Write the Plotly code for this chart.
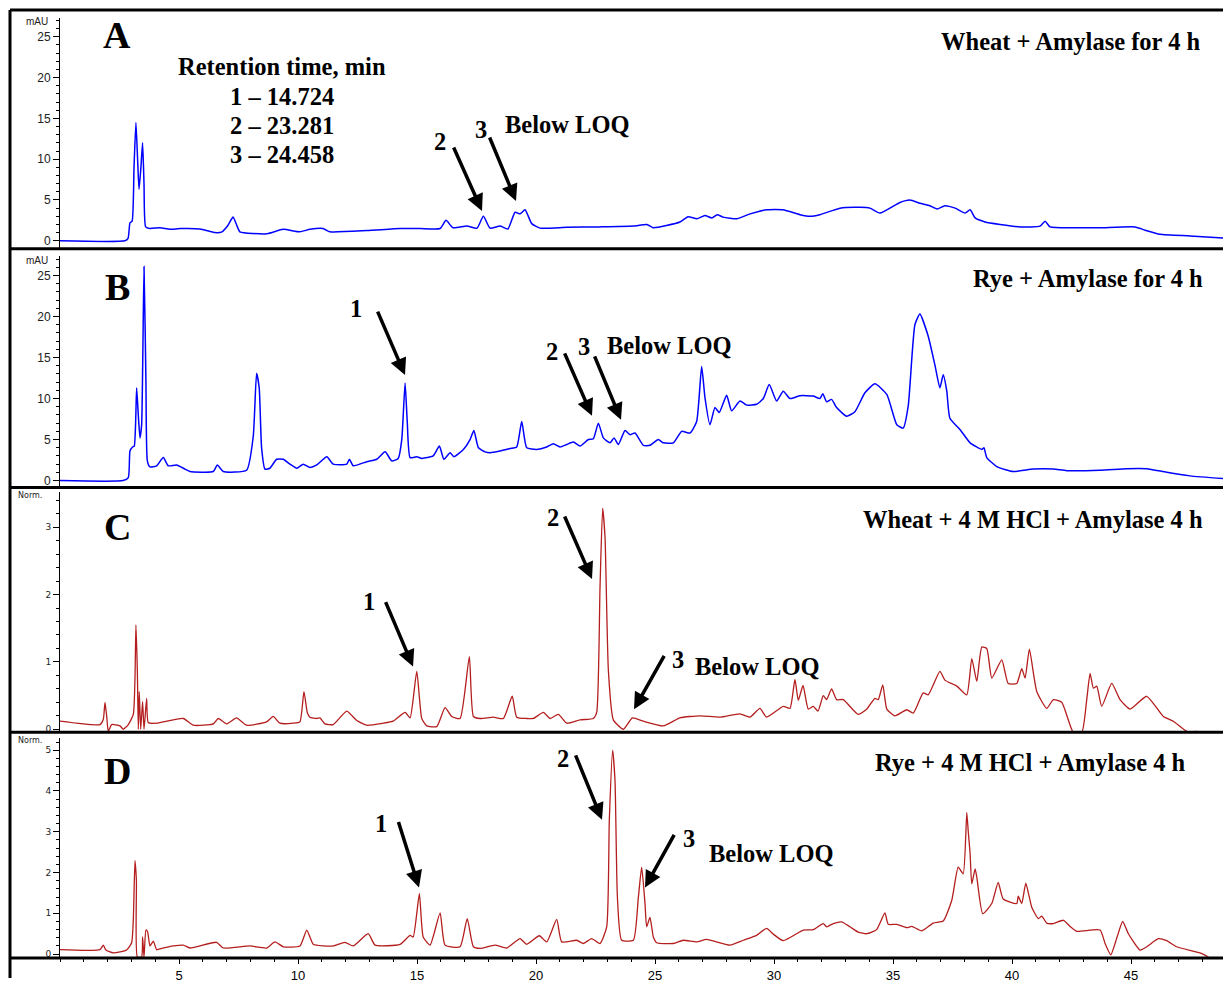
import plotly.graph_objects as go

W, H = 1223, 983

# ---------------- data (time in min, signal) ----------------
a_time = [0.00, 2.73, 2.86, 2.94, 3.03, 3.11, 3.19, 3.26, 3.32, 3.40, 3.47, 3.53, 3.60, 3.78, 4.20, 4.62, 5.04, 5.88,
          6.51, 6.81, 7.06, 7.27, 7.44, 7.56, 8.70, 9.37, 10.08, 10.50, 11.05, 11.34, 12.90, 14.29, 15.13, 15.97,
          16.22, 16.51, 17.10, 17.52, 17.79, 18.07, 18.49, 18.82, 19.12, 19.33, 19.54, 19.82, 20.17, 21.30, 22.69,
          24.08, 24.66, 24.92, 26.05, 26.39, 26.76, 27.10, 27.39, 27.61, 27.86, 28.45, 29.00, 29.71, 30.38, 31.09,
          31.51, 31.93, 32.77, 33.61, 34.03, 34.45, 35.29, 35.71, 36.13, 36.55, 36.85, 37.18, 37.61, 38.03, 38.24,
          38.45, 38.87, 39.50, 40.34, 41.18, 41.39, 41.60, 42.86, 43.70, 45.17, 45.59, 46.22, 47.48, 48.87]
a_signal = [0, 0, 0.3, 2.2, 2.4, 9, 14.5, 10, 6.3, 9, 12, 7, 1.7, 1.5, 1.6, 1.4, 1.5, 1.45,
            1.0, 1.1, 1.9, 2.9, 1.8, 1.1, 0.85, 1.4, 1.1, 1.4, 1.5, 1.1, 1.25, 1.5, 1.5, 1.5,
            2.5, 1.6, 1.8, 1.55, 3.0, 1.55, 1.8, 1.45, 3.5, 3.3, 3.8, 2.1, 1.55, 1.65, 1.7,
            1.8, 2.0, 1.6, 2.3, 2.95, 2.7, 3.1, 2.8, 3.2, 2.9, 2.7, 3.3, 3.8, 3.8, 3.2,
            3.0, 3.2, 4.0, 4.1, 4.0, 3.4, 4.7, 5.0, 4.6, 4.3, 3.9, 4.3, 4.0, 3.4, 3.8,
            2.8, 2.3, 2.0, 1.7, 1.8, 2.4, 1.7, 1.6, 1.6, 1.7, 1.3, 0.8, 0.6, 0.35]

b_time = [0.00, 2.65, 2.87, 2.94, 3.05, 3.12, 3.22, 3.29, 3.36, 3.43, 3.53, 3.61, 3.67, 3.78, 4.06, 4.34, 4.55, 4.90,
          5.25, 5.46, 6.44, 6.61, 6.86, 7.84, 8.12, 8.26, 8.37, 8.47, 8.61, 8.82, 9.10, 9.38, 9.66, 9.95, 10.22,
          10.50, 10.79, 11.21, 11.48, 12.05, 12.16, 12.32, 12.89, 13.31, 13.66, 13.94, 14.21, 14.36, 14.50, 14.59,
          14.71, 14.99, 15.20, 15.68, 15.94, 16.13, 16.39, 16.55, 16.95, 17.23, 17.39, 17.58, 17.86, 18.07, 18.49,
          18.91, 19.19, 19.40, 19.61, 20.03, 20.45, 20.73, 21.01, 21.29, 21.57, 21.85, 22.20, 22.41, 22.62, 22.83,
          23.11, 23.28, 23.46, 23.74, 23.95, 24.16, 24.51, 24.79, 25.14, 25.35, 25.77, 26.12, 26.47, 26.75, 26.96,
          27.10, 27.31, 27.52, 27.70, 28.01, 28.22, 28.57, 28.85, 29.27, 29.55, 29.80, 30.11, 30.39, 30.67, 31.09,
          31.65, 31.93, 32.05, 32.21, 32.42, 32.63, 33.05, 33.40, 33.82, 34.24, 34.74, 35.16, 35.43, 35.64, 35.92,
          36.13, 36.48, 36.76, 36.97, 37.11, 37.26, 37.39, 37.82, 38.24, 38.73, 38.82, 38.94, 39.36, 40.05, 40.89,
          41.74, 42.30, 43.70, 44.82, 45.66, 46.50, 47.48, 48.87]
b_signal = [0, 0, 0.36, 3.6, 4.1, 4.2, 11.3, 8.0, 5.2, 6.8, 26.1, 12.1, 2.4, 1.66, 1.8, 2.8, 1.8, 1.9,
            1.4, 1.1, 1.1, 1.9, 1.1, 1.25, 5.4, 13.1, 11.3, 4.0, 1.4, 1.5, 2.6, 2.6, 2.0, 1.5, 2.0,
            1.6, 1.9, 2.9, 2.0, 2.0, 2.6, 1.8, 2.3, 2.6, 3.5, 2.4, 2.7, 5.0, 11.9, 7.2,
            2.8, 2.9, 2.7, 3.0, 4.2, 2.6, 3.4, 2.9, 3.8, 5.0, 6.1, 4.0, 3.5, 3.4, 3.6,
            3.9, 4.1, 7.2, 4.0, 3.8, 4.1, 4.5, 4.1, 4.4, 4.7, 4.2, 5.0, 5.1, 7.0, 5.2,
            4.6, 5.2, 4.4, 6.1, 5.6, 5.8, 4.3, 4.3, 5.0, 4.6, 4.6, 6.0, 5.8, 7.2, 13.9,
            10.1, 6.8, 8.9, 8.3, 10.4, 8.5, 9.7, 9.2, 9.3, 10.0, 11.7, 9.7, 10.9, 10.0, 10.35,
            10.3, 10.0, 10.6, 9.6, 9.9, 8.9, 7.85, 8.4, 10.7, 11.8, 10.5, 6.8, 6.4, 9.1, 19.0,
            20.3, 17.6, 14.1, 11.3, 12.9, 10.9, 7.6, 6.2, 4.6, 3.8, 4.0, 2.8, 1.7, 1.1, 1.4,
            1.4, 1.2, 1.25, 1.45, 1.45, 1.0, 0.57, 0.24]

c_time = [0.00, 1.68, 1.82, 1.89, 1.96, 2.03, 2.17, 2.52, 2.66, 2.87, 3.08, 3.15, 3.19, 3.25, 3.29, 3.33, 3.39,
          3.47, 3.53, 3.64, 3.71, 4.06, 5.18, 5.60, 6.44, 6.65, 7.00, 7.42, 7.84, 8.68, 8.96, 9.24, 9.80, 10.08,
          10.25, 10.39, 10.50, 10.79, 10.92, 11.13, 11.48, 12.05, 12.47, 12.89, 13.58, 14.00, 14.50, 14.71, 14.99,
          15.20, 15.41, 15.83, 16.18, 16.46, 16.81, 17.20, 17.37, 17.65, 18.21, 18.63, 19.00, 19.19, 19.61, 19.89,
          20.31, 20.59, 20.94, 21.29, 21.85, 22.41, 22.55, 22.69, 22.80, 22.90, 23.04, 23.25, 23.67, 24.05, 24.51,
          25.35, 26.05, 26.89, 27.73, 28.57, 28.99, 29.41, 29.69, 30.39, 30.67, 30.88, 31.02, 31.22, 31.44, 31.65,
          31.85, 32.07, 32.21, 32.42, 32.63, 32.91, 33.54, 33.90, 34.24, 34.38, 34.57, 34.74, 35.08, 35.58, 35.85,
          36.27, 36.48, 36.97, 37.18, 37.68, 38.10, 38.31, 38.52, 38.73, 38.94, 39.15, 39.57, 39.84, 40.20, 40.41,
          40.55, 40.73, 41.04, 41.46, 41.74, 42.09, 42.58, 42.93, 43.14, 43.28, 43.42, 43.56, 43.77, 44.19, 44.54,
          44.96, 45.66, 46.36, 46.78, 47.34, 47.76]
c_signal = [0.12, 0.07, 0.15, 0.40, 0.2, -0.03, 0.07, 0.05, 0.0, 0.07, 0.22, 0.75, 1.55, 0.86, 0.0, 0.56, 0.0,
            0.41, 0.0, 0.46, 0.1, 0.09, 0.16, 0.06, 0.08, 0.16, 0.08, 0.17, 0.06, 0.11, 0.19, 0.09, 0.09, 0.11,
            0.56, 0.25, 0.18, 0.16, 0.17, 0.08, 0.07, 0.27, 0.13, 0.06, 0.09, 0.12, 0.25, 0.17, 0.86,
            0.16, 0.05, 0.04, 0.32, 0.19, 0.16, 1.08, 0.19, 0.16, 0.18, 0.16, 0.49, 0.18, 0.16, 0.16,
            0.25, 0.16, 0.22, 0.09, 0.14, 0.16, 0.25, 2.11, 3.28, 2.85, 0.88, 0.14, 0.0, 0.17, 0.12,
            0.05, 0.17, 0.2, 0.18, 0.23, 0.18, 0.31, 0.18, 0.34, 0.31, 0.74, 0.43, 0.65, 0.3, 0.34,
            0.27, 0.5, 0.44, 0.6, 0.44, 0.44, 0.22, 0.3, 0.46, 0.44, 0.66, 0.3, 0.2, 0.29, 0.24,
            0.54, 0.51, 0.86, 0.73, 0.64, 0.51, 1.05, 0.71, 1.22, 1.2, 0.76, 1.03, 0.68, 0.68, 0.9,
            0.76, 1.19, 0.56, 0.31, 0.44, 0.4, -0.05, -0.05, 0.44, 0.83, 0.61, 0.64, 0.34, 0.68, 0.44,
            0.3, 0.49, 0.19, 0.12, -0.03, -0.03]

d_time = [0.00, 1.68, 1.82, 1.93, 2.24, 2.80, 3.01, 3.08, 3.15, 3.21, 3.25, 3.43, 3.47, 3.53, 3.61, 3.68, 3.78,
          3.92, 4.06, 4.20, 4.76, 5.18, 5.46, 6.58, 6.86, 7.98, 8.68, 9.03, 9.38, 10.08, 10.37, 10.64, 11.06,
          11.48, 11.97, 12.32, 12.95, 13.24, 14.29, 14.71, 14.84, 15.10, 15.26, 15.55, 15.97, 16.18, 16.81, 17.11,
          17.37, 17.65, 18.28, 18.77, 19.33, 19.61, 20.14, 20.45, 20.87, 21.08, 21.71, 21.99, 22.34, 22.69, 22.97,
          23.08, 23.22, 23.32, 23.42, 23.60, 24.09, 24.30, 24.44, 24.58, 24.65, 24.79, 24.93, 25.07, 25.77, 26.19,
          26.75, 27.17, 28.15, 28.71, 29.27, 29.69, 29.97, 30.39, 31.23, 31.65, 32.07, 32.21, 32.49, 32.84, 33.19,
          33.54, 33.90, 34.31, 34.66, 34.80, 35.16, 35.58, 35.79, 36.21, 36.69, 37.11, 37.47, 37.74, 37.95, 38.10,
          38.16, 38.24, 38.31, 38.45, 38.52, 38.77, 39.15, 39.42, 39.63, 40.20, 40.26, 40.41, 40.58, 40.83, 41.11,
          41.25, 41.46, 41.74, 42.16, 42.44, 42.72, 43.70, 43.91, 44.15, 44.40, 44.65, 44.89, 45.38, 45.66, 46.15,
          46.50, 46.92, 47.90, 48.25]
d_signal = [0.11, 0.11, 0.22, 0.1, 0.03, 0.1, 0.28, 0.83, 2.29, 1.8, -0.07, -0.07, 0.42, -0.07, 0.59, 0.55, 0.2,
            0.32, 0.11, 0.13, 0.2, 0.22, 0.15, 0.29, 0.15, 0.2, 0.15, 0.3, 0.18, 0.2, 0.59, 0.24, 0.2,
            0.2, 0.29, 0.2, 0.5, 0.22, 0.24, 0.46, 0.42, 1.48, 0.42, 0.22, 1.01, 0.22, 0.18, 0.87,
            0.18, 0.14, 0.22, 0.15, 0.38, 0.24, 0.45, 0.3, 0.85, 0.3, 0.34, 0.26, 0.38, 0.26, 0.67,
            3.27, 5.0, 4.24, 1.4, 0.34, 0.34, 1.39, 2.13, 1.24, 0.67, 0.9, 0.42, 0.28, 0.26, 0.34,
            0.3, 0.36, 0.22, 0.34, 0.46, 0.63, 0.49, 0.33, 0.59, 0.6, 0.75, 0.67, 0.75, 0.79, 0.67,
            0.54, 0.5, 0.6, 1.01, 0.73, 0.73, 0.65, 0.68, 0.57, 0.76, 0.81, 1.32, 2.13, 1.97, 3.47,
            3.02, 2.46, 1.72, 2.09, 1.89, 0.99, 1.24, 1.76, 1.35, 1.24, 1.42, 1.24, 1.74, 1.15, 0.87,
            0.93, 0.76, 0.75, 0.83, 0.68, 0.56, 0.59, 0.26, -0.02, 0.39, 0.8, 0.5, 0.1, 0.18, 0.38,
            0.33, 0.18, 0.03, -0.07]

panel_letters = ["A", "B", "C", "D"]
panel_titles = ["Wheat + Amylase for 4 h", "Rye + Amylase for 4 h",
                "Wheat + 4 M HCl + Amylase 4 h", "Rye + 4 M HCl + Amylase 4 h"]
retention_lines = ["Retention time, min", "1 – 14.724", "2 – 23.281", "3 – 24.458"]
x_ticks = [5, 10, 15, 20, 25, 30, 35, 40, 45]

# ---------------- layout helpers (pixel geometry) ----------------
def px(x):
    return x / W

def py(y):
    return 1 - y / H

X0, XSCALE = 60, 23.8  # pixel of t=0, px per minute
x_range = [0, (W - X0) / XSCALE]

# (zero pixel, px per unit, bottom pixel, top pixel)
panels = [
    (242, 8.2, 250, 18),
    (483, 8.24, 490, 257),
    (733, 67.7, 736, 495),
    (959, 41.0, 963, 742),
]

fig = go.Figure()
series = [(a_time, a_signal, "#0000ff", 1.5), (b_time, b_signal, "#0000ff", 1.5),
          (c_time, c_signal, "#b41e1e", 1.3), (d_time, d_signal, "#b41e1e", 1.3)]
for i, (t, s, col, lw) in enumerate(series):
    fig.add_trace(go.Scatter(x=t, y=s, mode="lines",
                             line=dict(color=col, width=lw, shape="spline", smoothing=0.5),
                             xaxis="x", yaxis="y" if i == 0 else f"y{i+1}",
                             showlegend=False, hoverinfo="skip"))

layout = dict(
    width=W, height=H, margin=dict(l=0, r=0, t=0, b=0),
    paper_bgcolor="white", plot_bgcolor="white", showlegend=False,
    xaxis=dict(domain=[px(X0), 1], range=x_range, anchor="y4", showgrid=False, zeroline=False,
               showline=False, tickvals=x_ticks, ticks="outside", ticklen=5, tickwidth=1,
               tickcolor="black",
               minor=dict(dtick=1, ticks="outside", ticklen=3, tickcolor="black", showgrid=False),
               tickfont=dict(family="Liberation Sans Narrow, Arial Narrow, Liberation Sans, Arial",
                             size=13, color="black")),
)
ydt = [(5, 1), (5, 1), (1, 0.2), (1, 0.2)]
for i, (z, sc, bot, top) in enumerate(panels):
    key = "yaxis" if i == 0 else f"yaxis{i+1}"
    small = i >= 2
    layout[key] = dict(
        domain=[py(bot), py(top)], range=[(z - bot) / sc, (z - top) / sc], anchor="x",
        showgrid=False, zeroline=False, showline=True, linecolor="black", linewidth=1,
        ticks="outside", ticklen=6, tickcolor="black", dtick=ydt[i][0], tick0=0,
        minor=dict(dtick=ydt[i][1], ticks="outside", ticklen=3, tickcolor="black", showgrid=False),
        tickfont=dict(family="DejaVu Sans" if small else "Liberation Sans, Arial",
                      size=9 if small else 12, color="#222"),
    )
fig.update_layout(**layout)

# frame lines
shapes = []
for yline in [10, 250, 490, 736, 963]:
    shapes.append(dict(type="line", xref="paper", yref="paper", x0=px(10), x1=1.0,
                       y0=py(yline), y1=py(yline), line=dict(color="black", width=3), layer="above"))
shapes.append(dict(type="line", xref="paper", yref="paper", x0=px(10), x1=px(10),
                   y0=py(10), y1=0, line=dict(color="black", width=3), layer="above"))
fig.update_layout(shapes=shapes)

serif = "Liberation Serif, Times New Roman, serif"
ann = []
FS = 24.5

def text(x, y, s, size=FS, xanchor="center", family=serif, bold=True, color="black"):
    ann.append(dict(x=px(x), y=py(y), xref="paper", yref="paper", text=f"<b>{s}</b>" if bold else s,
                    showarrow=False, xanchor=xanchor, yanchor="middle",
                    font=dict(family=family, size=size, color=color)))

def arrow(sx, sy, tx, ty):
    ann.append(dict(x=px(tx), y=py(ty), xref="paper", yref="paper", text="", showarrow=True,
                    ax=sx - tx, ay=sy - ty, axref="pixel", ayref="pixel",
                    arrowhead=2, arrowsize=0.95, arrowwidth=3.5, arrowcolor="black"))

# panel letters and titles
letter_y = [35, 288, 530, 775]
title_pos = [(1203, 42), (1205, 280), (1205, 522), (1188, 766)]
for i in range(4):
    text(117, letter_y[i], panel_letters[i], size=38)
    text(title_pos[i][0], title_pos[i][1], panel_titles[i], size=FS, xanchor="right")

# axis unit labels
text(37, 22, "mAU", size=10, family="Liberation Sans, Arial", bold=False, color="#222")
text(37, 262, "mAU", size=10, family="Liberation Sans, Arial", bold=False, color="#222")
text(30, 498, "Norm.", size=8, family="DejaVu Sans", bold=False, color="#222")
text(30, 744, "Norm.", size=8, family="DejaVu Sans", bold=False, color="#222")

# retention-time legend
for s, yy in zip(retention_lines, [67, 97, 126, 155]):
    text(282, yy, s)

# Panel A
text(440, 142, "2"); arrow(453, 147, 482, 212)
text(481, 130, "3"); arrow(489, 137, 516, 202)
text(503, 125, "Below LOQ", xanchor="left")
# Panel B
text(356, 310, "1"); arrow(377, 312, 405, 377)
text(552, 353, "2"); arrow(564, 354, 592, 418)
text(584, 348, "3"); arrow(594, 357, 621, 422)
text(605, 347, "Below LOQ", xanchor="left")
# Panel C
text(369, 605, "1"); arrow(385, 604, 413, 670)
text(553, 520, "2"); arrow(564, 518, 592, 582)
text(678, 663, "3"); arrow(665, 658, 634, 713)
text(693, 670, "Below LOQ", xanchor="left")
# Panel D
text(381, 828, "1"); arrow(398, 825, 419, 892)
text(563, 762, "2"); arrow(575, 758, 602, 824)
text(689, 843, "3"); arrow(675, 838, 645, 892)
text(707, 858, "Below LOQ", xanchor="left")

fig.update_layout(annotations=ann)
fig.write_html("out.html")
